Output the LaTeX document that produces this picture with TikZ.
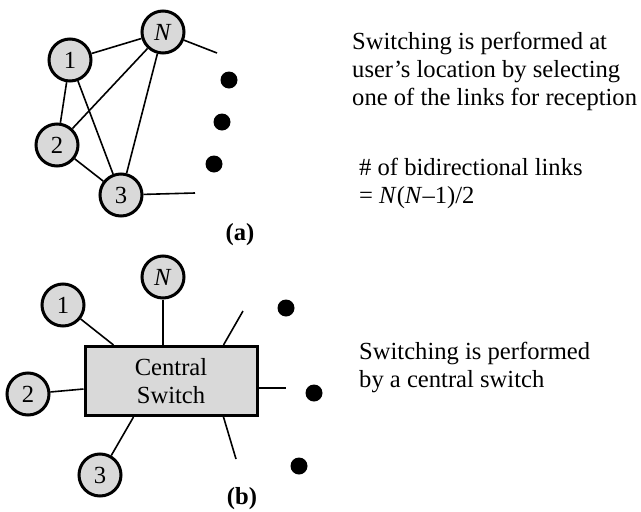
\documentclass[tikz,border=0pt]{standalone}
\usepackage{fontspec}
\setmainfont{Liberation Serif}
\begin{document}
\begin{tikzpicture}[x=1pt,y=-1pt,
  every node/.style={font=\fontsize{24.6}{28}\selectfont},
  usr/.style={circle,draw,line width=3pt,fill=black!15,minimum size=42pt,inner sep=0pt},
  link/.style={line width=1.6pt},
  dotc/.style={circle,fill=black,minimum size=17pt,inner sep=0pt},
  swbox/.style={draw,line width=3pt,fill=black!15,minimum width=172pt,minimum height=69pt,align=center,inner sep=0pt},
  txt/.style={align=left,anchor=base west,inner sep=0pt}]
\useasboundingbox (0,0) rectangle (641,512);
% ---------- (a) ----------
\node[usr] (a1) at (70,60) {1};
\node[usr] (aN) at (163,32) {\textit{N}};
\node[usr] (a2) at (57,145) {2};
\node[usr] (a3) at (121,195) {3};
\coordinate (aNend) at (217,53);
\coordinate (a3end) at (195,193);
\draw[link] (a1) -- (aN);
\draw[link] (a1) -- (a2);
\draw[link] (a1) -- (a3);
\draw[link] (a2) -- (aN);
\draw[link] (a2) -- (a3);
\draw[link] (aN) -- (a3);
\draw[link] (aN) -- (aNend);
\draw[link] (a3) -- (a3end);
\node[dotc] (ad1) at (229,80) {};
\node[dotc] (ad2) at (222,122) {};
\node[dotc] (ad3) at (214,164) {};
\node (la) at (240,235) {\textbf{(a)}};
\node[txt] (ta) at (352,105.5) {Switching is performed at\\user’s location by selecting\\one of the links for reception};
\node[txt] (tb) at (359,203.5) {\# of bidirectional links\\= \textit{N}(\textit{N}--1)/2};
% ---------- (b) ----------
\node[swbox] (sw) at (171,381) {Central\\Switch};
\node[usr] (bN) at (163,277) {\textit{N}};
\node[usr] (b1) at (63,305) {1};
\node[usr] (b2) at (28,394) {2};
\node[usr] (b3) at (100,475) {3};
\draw[link] (b1) -- ([xshift=30pt]sw.north west);
\draw[link] (bN) -- (bN |- sw.north);
\draw[link] (b2) -- ([yshift=-8pt]sw.west);
\draw[link] (b3) -- ([xshift=50pt]sw.south west);
\coordinate (e1) at (243,311);
\coordinate (e2) at (286,388);
\coordinate (e3) at (236,459);
\draw[link] ([xshift=-35pt]sw.north east) -- (e1);
\draw[link] ([yshift=-7pt]sw.east) -- (e2);
\draw[link] ([xshift=-35pt]sw.south east) -- (e3);
\node[dotc] (bd1) at (286,308) {};
\node[dotc] (bd2) at (314,393) {};
\node[dotc] (bd3) at (299,466) {};
\node (lb) at (242,499) {\textbf{(b)}};
\node[txt] (tc) at (359,387.5) {Switching is performed\\by a central switch};
\end{tikzpicture}
\end{document}
